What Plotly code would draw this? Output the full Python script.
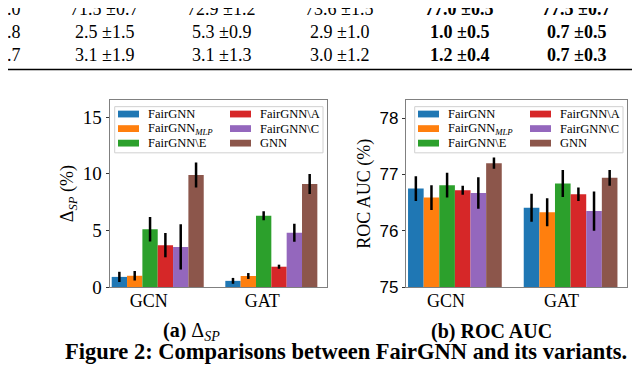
import plotly.graph_objects as go

# ---------------------------------------------------------------
# data
# ---------------------------------------------------------------
BACKBONES = ['GCN', 'GAT']
MODELS = ['FairGNN', 'FairGNN<sub><i>MLP</i></sub>', 'FairGNN\\E',
          'FairGNN\\A', 'FairGNN\\C', 'GNN']

# delta SP (%) -- [GCN, GAT] per model
SP_MEAN = {
    'FairGNN': [0.9, 0.55],
    'FairGNN<sub><i>MLP</i></sub>': [1.0, 0.98],
    'FairGNN\\E': [5.1, 6.3],
    'FairGNN\\A': [3.7, 1.8],
    'FairGNN\\C': [3.55, 4.8],
    'GNN': [9.9, 9.1],
}
SP_STD = {
    'FairGNN': [0.45, 0.26],
    'FairGNN<sub><i>MLP</i></sub>': [0.42, 0.26],
    'FairGNN\\E': [1.08, 0.4],
    'FairGNN\\A': [1.07, 0.18],
    'FairGNN\\C': [2.0, 0.8],
    'GNN': [1.1, 0.88],
}

# ROC AUC (%)
AUC_MEAN = {
    'FairGNN': [76.75, 76.41],
    'FairGNN<sub><i>MLP</i></sub>': [76.59, 76.33],
    'FairGNN\\E': [76.81, 76.84],
    'FairGNN\\A': [76.72, 76.65],
    'FairGNN\\C': [76.67, 76.35],
    'GNN': [77.2, 76.94],
}
AUC_STD = {
    'FairGNN': [0.22, 0.25],
    'FairGNN<sub><i>MLP</i></sub>': [0.22, 0.25],
    'FairGNN\\E': [0.22, 0.24],
    'FairGNN\\A': [0.08, 0.12],
    'FairGNN\\C': [0.28, 0.35],
    'GNN': [0.1, 0.14],
}

# table fragment visible above the figure
TABLE_ROWS = [
    ['±1.0', '71.5 ±0.7', '72.9 ±1.2', '73.6 ±1.5', '77.0 ±0.5', '77.5 ±0.7'],
    ['±0.8', '2.5 ±1.5', '5.3 ±0.9', '2.9 ±1.0', '1.0 ±0.5', '0.7 ±0.5'],
    ['±0.7', '3.1 ±1.9', '3.1 ±1.3', '3.0 ±1.2', '1.2 ±0.4', '0.7 ±0.3'],
]
BOLD_COLS = [4, 5]

COLORS = ['#1f77b4', '#ff7f0e', '#2ca02c', '#d62728', '#9467bd', '#8c564b']

# ---------------------------------------------------------------
# layout helpers (pixel -> paper)
# ---------------------------------------------------------------
W, H = 640, 368
SERIF = 'Liberation Serif'
SANS = 'Liberation Sans'


def px(x):
    return x / W


def py(y):
    return 1 - y / H


fig = go.Figure()

for i, m in enumerate(MODELS):
    fig.add_trace(go.Bar(
        x=BACKBONES, y=SP_MEAN[m], name=m, marker_color=COLORS[i],
        marker_line_width=0, showlegend=False,
        error_y=dict(type='data', array=SP_STD[m], color='black',
                     thickness=2.5, width=0),
        xaxis='x', yaxis='y'))
    fig.add_trace(go.Bar(
        x=BACKBONES, y=AUC_MEAN[m], name=m, marker_color=COLORS[i],
        marker_line_width=0, showlegend=False,
        error_y=dict(type='data', array=AUC_STD[m], color='black',
                     thickness=2.5, width=0),
        xaxis='x2', yaxis='y2'))

FRAME = '#808080'
xcommon = dict(type='category', range=[-0.42, 1.49], showline=True,
               mirror=True, linecolor=FRAME, linewidth=1, ticks='',
               showgrid=False, zeroline=False, ticklabelshift=-9,
               ticklabelstandoff=-3,
               tickfont=dict(family=SERIF, size=18, color='black'))
ycommon = dict(showline=True, mirror=True, linecolor=FRAME, linewidth=1,
               ticks='outside', ticklen=3.5, tickcolor='#333',
               showgrid=False, zeroline=False)

fig.update_layout(
    width=W, height=H, margin=dict(l=0, r=0, t=0, b=0),
    paper_bgcolor='white', plot_bgcolor='white',
    barmode='group', bargap=0.19, bargroupgap=0,
    xaxis=dict(domain=[px(102), px(319)], anchor='y', **xcommon),
    xaxis2=dict(domain=[px(398.3), px(619.3)], anchor='y2', **xcommon),
    yaxis=dict(domain=[py(287.7), py(95)], anchor='x', range=[0, 16.5],
               tickvals=[0, 5, 10, 15],
               tickfont=dict(family=SERIF, size=19, color='black'),
               title=dict(text='Δ<sub><i>SP</i></sub> (%)', standoff=4,
                          font=dict(family=SERIF, size=18, color='black')),
               **ycommon),
    yaxis2=dict(domain=[py(287.7), py(95)], anchor='x2', range=[75, 78.32],
                tickvals=[75, 76, 77, 78],
                tickfont=dict(family=SANS, size=17, color='black'),
                title=dict(text='ROC AUC (%)', standoff=4,
                           font=dict(family=SERIF, size=18, color='black')),
                **ycommon),
)

shapes = []
annotations = []

# manual two-column legends (matplotlib ncol=2 style)
for off in (0, 300):
    shapes.append(dict(type='rect', xref='paper', yref='paper',
                       x0=px(106.7 + off), x1=px(315 + off),
                       y0=py(149.3), y1=py(101.7),
                       line=dict(color='#d0d0d0', width=1),
                       fillcolor='rgba(255,255,255,0.85)'))
    for i, m in enumerate(MODELS):
        col, row = divmod(i, 3)
        cx = 110 + off + col * 112
        cy = 109.3 + row * 15
        shapes.append(dict(type='rect', xref='paper', yref='paper',
                           x0=px(cx), x1=px(cx + 21),
                           y0=py(cy + 3.5), y1=py(cy - 3.5),
                           line=dict(width=0), fillcolor=COLORS[i]))
        annotations.append(dict(xref='paper', yref='paper', x=px(cx + 28),
                                y=py(cy), xanchor='left', yanchor='middle',
                                text=m, showarrow=False,
                                font=dict(family=SERIF, size=12.5,
                                          color='black')))

# table fragment
COL_X = [14, 96, 213, 331, 451, 568]
ROW_Y = [1, 25, 48]
for r, row in enumerate(TABLE_ROWS):
    for c, txt in enumerate(row):
        annotations.append(dict(
            xref='paper', yref='paper', x=px(COL_X[c]), y=py(ROW_Y[r]),
            xanchor='right' if c == 0 else 'center', yanchor='middle',
            text=f'<b>{txt}</b>' if c in BOLD_COLS else txt,
            showarrow=False, font=dict(family=SERIF, size=18, color='black')))
shapes.append(dict(type='line', xref='paper', yref='paper', x0=0,
                   x1=px(636), y0=py(63.5), y1=py(63.5),
                   line=dict(color='black', width=1.5)))
shapes.append(dict(type='line', xref='paper', yref='paper', x0=px(636),
                   x1=px(636), y0=1, y1=py(63.5),
                   line=dict(color='black', width=1.5)))

# captions
annotations.append(dict(xref='paper', yref='paper', x=px(183), y=py(333),
                        text='<b>(a)</b> Δ<sub><i>SP</i></sub>',
                        showarrow=False, xanchor='center', yanchor='middle',
                        font=dict(family=SERIF, size=20, color='black')))
annotations.append(dict(xref='paper', yref='paper', x=px(483), y=py(333),
                        text='<b>(b) ROC AUC</b>',
                        showarrow=False, xanchor='center', yanchor='middle',
                        font=dict(family=SERIF, size=20, color='black')))
annotations.append(dict(xref='paper', yref='paper', x=px(337.5), y=py(354),
                        text='<b>Figure 2: Comparisons between FairGNN and its variants.</b>',
                        showarrow=False, xanchor='center', yanchor='middle',
                        font=dict(family=SERIF, size=22.5, color='black')))

fig.update_layout(shapes=shapes, annotations=annotations)

fig.write_html('out.html')
